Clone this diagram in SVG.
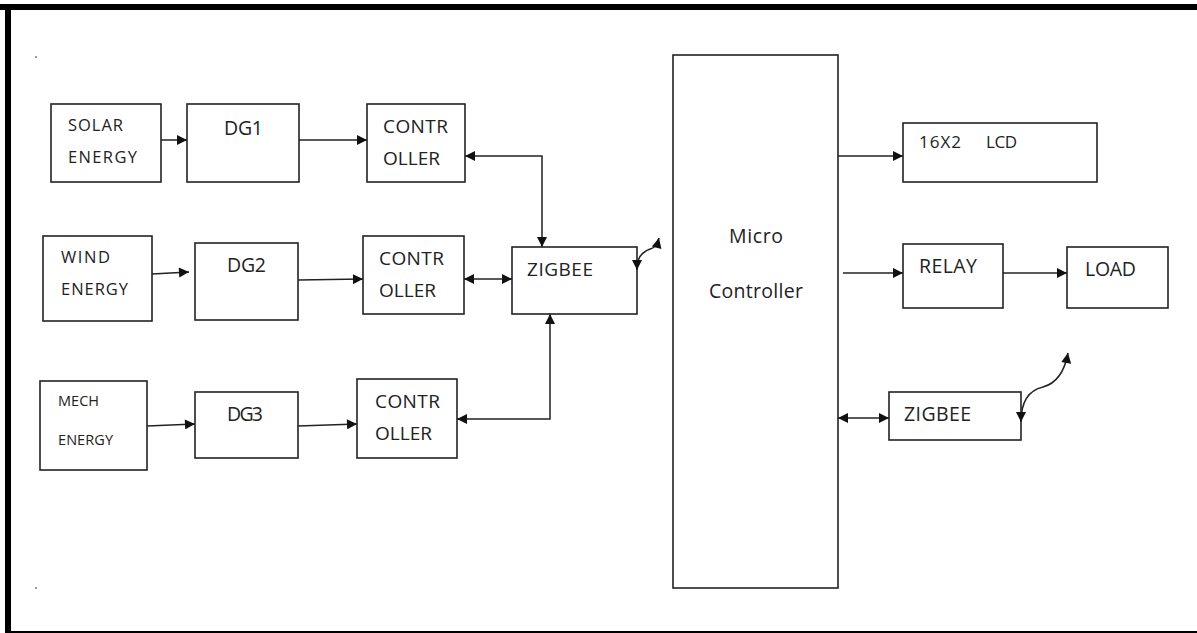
<svg xmlns="http://www.w3.org/2000/svg" width="1197" height="633" viewBox="0 0 1197 633">
  <defs>
    <marker id="ah" viewBox="0 0 10 10" refX="10" refY="5" markerWidth="12" markerHeight="10" markerUnits="userSpaceOnUse" orient="auto-start-reverse">
      <path d="M0,0 L10,5 L0,10 Z" fill="#111"/>
    </marker>
  </defs>
  <style>
    .box { fill: #fff; stroke: #222; stroke-width: 1.6; }
    .lbl { font-family: "Open Sans", "Noto Sans", "Liberation Sans", sans-serif; fill: #222; }
    .wire { fill: none; stroke: #222; stroke-width: 1.5; }
  </style>

  <rect width="1197" height="633" fill="#fff"/>
  <!-- page frame -->
  <rect x="0" y="4" width="1197" height="6" fill="#000"/>
  <rect x="5" y="4" width="6" height="629" fill="#000"/>
  <rect x="5" y="631" width="1192" height="2" fill="#000"/>
  <rect x="35" y="56" width="2" height="2" fill="#999"/>
  <rect x="35" y="587" width="2" height="2" fill="#999"/>

  <!-- sources -->
  <g id="solar">
    <rect class="box" x="51" y="104" width="110" height="78"/>
    <text class="lbl" x="68" y="131" font-size="16.5" textLength="55">SOLAR</text>
    <text class="lbl" x="68" y="163" font-size="16.5" textLength="69">ENERGY</text>
  </g>
  <g id="wind">
    <rect class="box" x="43" y="236" width="109" height="85"/>
    <text class="lbl" x="61" y="263" font-size="16.5" textLength="49">WIND</text>
    <text class="lbl" x="61" y="295" font-size="16.5" textLength="67">ENERGY</text>
  </g>
  <g id="mech">
    <rect class="box" x="40" y="381" width="107" height="89"/>
    <text class="lbl" x="58" y="406" font-size="14.5" textLength="41">MECH</text>
    <text class="lbl" x="58" y="445" font-size="14.5" textLength="55">ENERGY</text>
  </g>

  <!-- generators -->
  <g id="dg1">
    <rect class="box" x="187" y="104" width="112" height="78"/>
    <text class="lbl" x="224" y="135" font-size="19.5" textLength="39">DG1</text>
  </g>
  <g id="dg2">
    <rect class="box" x="195" y="243" width="103" height="77"/>
    <text class="lbl" x="227" y="272" font-size="19.5" textLength="39">DG2</text>
  </g>
  <g id="dg3">
    <rect class="box" x="195" y="392" width="103" height="66"/>
    <text class="lbl" x="227" y="421" font-size="19.5" textLength="36">DG3</text>
  </g>

  <!-- controllers -->
  <g id="ctrl1">
    <rect class="box" x="367" y="104" width="98" height="78"/>
    <text class="lbl" x="383" y="133" font-size="19" textLength="65">CONTR</text>
    <text class="lbl" x="383" y="165" font-size="19" textLength="57">OLLER</text>
  </g>
  <g id="ctrl2">
    <rect class="box" x="363" y="236" width="101" height="78"/>
    <text class="lbl" x="379" y="265" font-size="19" textLength="65">CONTR</text>
    <text class="lbl" x="379" y="297" font-size="19" textLength="57">OLLER</text>
  </g>
  <g id="ctrl3">
    <rect class="box" x="357" y="379" width="100" height="79"/>
    <text class="lbl" x="375" y="408" font-size="19" textLength="65">CONTR</text>
    <text class="lbl" x="375" y="440" font-size="19" textLength="57">OLLER</text>
  </g>

  <!-- wireless links -->
  <g id="zigbee1">
    <rect class="box" x="512" y="247" width="125" height="67"/>
    <text class="lbl" x="527" y="276" font-size="19" textLength="66">ZIGBEE</text>
  </g>
  <g id="micro">
    <rect class="box" x="673" y="55" width="165" height="533" stroke-width="2"/>
    <text class="lbl" x="729" y="243" font-size="19.5" textLength="54">Micro</text>
    <text class="lbl" x="709" y="298" font-size="19.5" textLength="94">Controller</text>
  </g>
  <g id="lcd">
    <rect class="box" x="903" y="123" width="194" height="59"/>
    <text class="lbl" x="919" y="148" font-size="17" textLength="42">16X2</text>
    <text class="lbl" x="986" y="148" font-size="17" textLength="31">LCD</text>
  </g>
  <g id="relay">
    <rect class="box" x="903" y="244" width="100" height="64"/>
    <text class="lbl" x="919" y="273" font-size="19.5" textLength="58">RELAY</text>
  </g>
  <g id="load">
    <rect class="box" x="1067" y="247" width="101" height="61"/>
    <text class="lbl" x="1085" y="276" font-size="19.5" textLength="51">LOAD</text>
  </g>
  <g id="zigbee2">
    <rect class="box" x="889" y="392" width="132" height="48"/>
    <text class="lbl" x="904" y="421" font-size="19.5" textLength="67">ZIGBEE</text>
  </g>

  <!-- connectors -->
  <g id="connectors">
    <line class="wire" x1="161" y1="140" x2="187" y2="140" marker-end="url(#ah)"/>
    <line class="wire" x1="299" y1="140" x2="367" y2="140" marker-end="url(#ah)"/>
    <line class="wire" x1="152" y1="274" x2="189" y2="272" marker-end="url(#ah)"/>
    <line class="wire" x1="298" y1="280" x2="363" y2="279" marker-end="url(#ah)"/>
    <line class="wire" x1="147" y1="426" x2="195" y2="424" marker-end="url(#ah)"/>
    <line class="wire" x1="298" y1="426" x2="357" y2="424" marker-end="url(#ah)"/>

    <polyline class="wire" points="465,156 542,156 542,247" marker-start="url(#ah)" marker-end="url(#ah)"/>
    <line class="wire" x1="464" y1="279" x2="512" y2="279" marker-start="url(#ah)" marker-end="url(#ah)"/>
    <polyline class="wire" points="457,419 550,419 550,314" marker-start="url(#ah)" marker-end="url(#ah)"/>

    <path class="wire" d="M659,238 C656,250 650,248 646,251 C641,254 637,258 637,270" marker-start="url(#ah)" marker-end="url(#ah)"/>

    <line class="wire" x1="838" y1="156" x2="903" y2="156" marker-end="url(#ah)"/>
    <line class="wire" x1="843" y1="273" x2="903" y2="273" marker-end="url(#ah)"/>
    <line class="wire" x1="1003" y1="273" x2="1067" y2="273" marker-end="url(#ah)"/>
    <line class="wire" x1="838" y1="418" x2="889" y2="418" marker-start="url(#ah)" marker-end="url(#ah)"/>

    <path class="wire" d="M1068,353 C1064,375 1054,384 1043,387 C1030,390 1021,400 1021,422" marker-start="url(#ah)" marker-end="url(#ah)"/>
  </g>
</svg>
